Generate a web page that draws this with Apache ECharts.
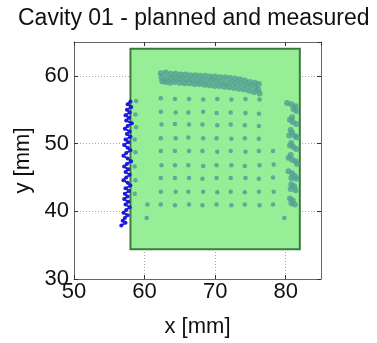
<!DOCTYPE html>
<html>
<head>
<meta charset="utf-8">
<script src="https://cdn.jsdelivr.net/npm/echarts@6/dist/echarts.min.js"></script>
<style>
  html, body { margin: 0; padding: 0; background: #fff; }
  #chart { width: 377px; height: 343px; }
</style>
</head>
<body>
<div id="chart"></div>
<script>
// planned area [xMin, yMin, xMax, yMax] in mm
const plannedArea = [[58, 34.4, 82, 64]];

// measured grid points (teal)
const gridPoints = [
  [62.3,56.7],[64.3,56.6],[66.3,56.6],[68.3,56.5],[70.3,56.6],[72.3,56.5],[74.3,56.6],[76.3,56.5],
  [62.3,54.7],[64.4,54.6],[66.2,54.6],[68.3,54.7],[70.2,54.5],[72.2,54.6],[74.3,54.5],[76.2,54.4],
  [62.4,52.8],[64.3,52.9],[66.3,52.8],[68.2,52.8],[70.3,52.7],[72.2,52.8],[74.2,52.7],[76.2,52.6],
  [62.3,50.8],[64.4,50.8],[66.2,50.9],[68.3,50.8],[70.2,50.8],[72.3,50.7],[74.2,50.8],[76.2,50.7],
  [62.3,48.9],[64.3,48.9],[66.3,48.9],[68.2,48.9],[70.3,48.8],[72.2,48.9],[74.3,48.8],[76.2,48.9],
  [62.4,46.8],[64.3,46.8],[66.2,46.8],[68.3,46.7],[70.2,46.8],[72.3,46.8],[74.2,46.7],[76.3,46.8],
  [62.3,44.9],[64.3,44.9],[66.3,44.9],[68.2,44.8],[70.2,44.9],[72.2,44.9],[74.3,44.9],[76.2,44.8],
  [62.3,42.9],[64.4,42.9],[66.2,42.9],[68.3,42.9],[70.3,42.8],[72.2,42.9],[74.2,42.8],[76.2,42.9],
  [62.3,41.0],[64.3,40.9],[66.3,41.0],[68.2,40.9],[70.2,41.0],[72.3,40.9],[74.2,41.0],[76.3,40.9],
  [78.2,48.9],[78.3,46.9],[78.2,45.0],[78.3,42.9],[78.2,41.0],
  [58.8,56.3],[58.7,54.3],[58.8,52.4],[58.6,50.6],[58.7,48.7],[58.6,46.6],[58.7,44.6],[58.6,42.6],
  [60.4,41.0],[60.3,39.0],[79.8,39.0]
];

// measured top row (dense band)
const topBand = [
  [62.3,60.4],[62.4,59.8],[62.5,59.2],[63.0,60.5],[63.1,59.7],[63.0,59.1],
  [63.7,60.3],[63.8,59.7],[63.6,59.0],[64.4,60.3],[64.5,59.6],[64.3,59.1],
  [65.1,60.2],[65.2,59.6],[65.0,59.0],[65.8,60.2],[65.9,59.5],[65.7,58.9],
  [66.5,60.1],[66.6,59.5],[66.4,58.9],[67.2,60.1],[67.3,59.4],[67.1,58.8],
  [67.9,60.0],[68.0,59.4],[67.8,58.8],[68.6,60.0],[68.7,59.3],[68.5,58.7],
  [69.3,59.9],[69.4,59.3],[69.2,58.6],[70.0,59.9],[70.1,59.2],[69.9,58.5],
  [70.7,59.8],[70.8,59.1],[70.6,58.5],[71.4,59.8],[71.5,59.0],[71.3,58.4],
  [72.1,59.7],[72.2,59.0],[72.0,58.3],[72.8,59.6],[72.9,58.9],[72.7,58.2],
  [73.5,59.5],[73.6,58.8],[73.4,58.1],[74.2,59.3],[74.3,58.6],[74.1,58.0],
  [74.9,59.1],[75.0,58.5],[74.8,57.8],[75.6,59.0],[75.7,58.3],[75.5,57.6],
  [76.2,58.8],[76.1,58.0],[76.3,57.4]
];

// measured right edge (chevrons)
const rightEdge = [
  [80.2,56.0],[80.8,55.8],[81.4,55.5],[81.1,55.1],[81.5,54.8],
  [80.9,53.9],[80.6,53.5],[81.0,53.2],[81.5,52.9],
  [80.7,52.0],[80.9,51.6],[80.5,51.2],[81.3,51.1],[81.6,50.9],
  [80.8,50.1],[80.6,49.7],[81.1,49.5],[81.5,49.2],
  [80.7,48.3],[80.4,47.9],[80.9,47.6],[81.4,47.4],[81.6,47.0],
  [80.4,45.9],[80.9,45.6],[81.3,45.2],[80.8,44.9],[81.5,44.8],
  [80.8,44.0],[81.2,43.7],[80.7,43.3],[81.4,43.1],
  [80.6,41.9],[81.0,41.6],[80.8,41.2],[81.3,41.0]
];

// measured left edge (blue trace)
const leftEdge = [
  [58.0,56.2],[57.6,55.8],[58.1,55.4],[57.5,55.0],[57.9,54.6],[57.3,54.2],[57.8,53.8],[57.4,53.4],
  [58.2,53.0],[57.6,52.6],[57.2,52.2],[57.9,51.8],[57.5,51.4],[58.0,51.0],[57.3,50.6],[57.7,50.2],
  [57.1,49.8],[57.6,49.4],[58.0,49.0],[57.4,48.6],[57.0,48.2],[57.6,47.8],[58.1,47.4],[57.5,47.0],
  [57.1,46.6],[57.7,46.2],[57.3,45.8],[57.9,45.4],[57.4,45.0],[57.0,44.6],[57.6,44.2],[58.0,43.8],
  [57.3,43.4],[57.8,43.0],[57.2,42.6],[57.6,42.2],[57.1,41.8],[57.7,41.4],[57.3,41.0],[57.9,40.6],
  [57.4,40.2],[57.0,39.8],[57.6,39.4],[57.2,39.0],[56.9,38.6],[57.3,38.3],[56.7,37.9]
];

const xTicks = { min: 50, max: 85, interval: 10 };
const yTicks = { min: 30, max: 65, interval: 10 };

const FONT = 'Arial, "Liberation Sans", sans-serif';
const teal = '#519f95';
const boxColor = '#666';

const chart = echarts.init(document.getElementById('chart'), null, { renderer: 'canvas' });

const mainAxis = (t, extra) => Object.assign({
  type: 'value',
  min: t.min, max: t.max, interval: t.interval,
  axisLine: { show: true, lineStyle: { color: boxColor, width: 1 } },
  axisTick: { show: true, inside: true, length: 4, lineStyle: { color: '#333' } },
  splitLine: { show: true, lineStyle: { color: '#a8a8a8', type: [1, 2], width: 1 } },
}, extra);

const mirrorAxis = (t, pos) => ({
  type: 'value', position: pos,
  min: t.min, max: t.max, interval: t.interval,
  axisLine: { show: true, onZero: false, lineStyle: { color: boxColor, width: 1 } },
  axisTick: { show: true, inside: true, length: 4, lineStyle: { color: '#333' } },
  axisLabel: { show: false },
  splitLine: { show: false },
});

chart.setOption({
  animation: false,
  backgroundColor: '#fff',
  title: {
    text: 'Cavity 01 - planned and measured',
    left: 13, top: 2,
    textStyle: { fontFamily: FONT, fontSize: 23, fontWeight: 'normal', color: '#111' },
  },
  grid: { left: 74, right: 56, top: 42, bottom: 52, containLabel: false },
  xAxis: [
    mainAxis(xTicks, {
      position: 'bottom',
      name: 'x [mm]', nameLocation: 'middle', nameGap: 37,
      nameTextStyle: { fontFamily: FONT, fontSize: 22, color: '#111' },
      axisLabel: { fontFamily: FONT, fontSize: 22, color: '#111', margin: 2, showMaxLabel: false },
    }),
    mirrorAxis(xTicks, 'top'),
  ],
  yAxis: [
    mainAxis(yTicks, {
      position: 'left',
      name: 'y [mm]', nameLocation: 'middle', nameGap: 30,
      nameTextStyle: { fontFamily: FONT, fontSize: 22, color: '#111' },
      axisLabel: { fontFamily: FONT, fontSize: 22, color: '#111', margin: 5, showMaxLabel: false },
    }),
    mirrorAxis(yTicks, 'right'),
  ],
  series: [
    {
      name: 'planned',
      type: 'custom',
      z: 1,
      encode: { x: [0, 2], y: [1, 3] },
      data: plannedArea,
      renderItem: (params, api) => {
        const p0 = api.coord([api.value(0), api.value(1)]);
        const p1 = api.coord([api.value(2), api.value(3)]);
        return {
          type: 'rect',
          shape: { x: p0[0], y: p1[1], width: p1[0] - p0[0], height: p0[1] - p1[1] },
          style: { fill: '#97ee97', stroke: '#3d7b3d', lineWidth: 2 },
        };
      },
    },
    {
      name: 'grid', type: 'scatter', z: 3,
      data: gridPoints, symbolSize: 4.5,
      itemStyle: { color: teal, opacity: 0.85 },
    },
    {
      name: 'top', type: 'scatter', z: 3,
      data: topBand, symbolSize: 6,
      itemStyle: { color: teal },
    },
    {
      name: 'right', type: 'scatter', z: 3,
      data: rightEdge, symbolSize: 6,
      itemStyle: { color: teal },
    },
    {
      name: 'left', type: 'line', z: 4,
      data: leftEdge,
      symbol: 'circle', symbolSize: 4,
      lineStyle: { color: '#1b1bd8', width: 2 },
      itemStyle: { color: '#1b1bd8' },
    },
  ],
});
</script>
</body>
</html>
